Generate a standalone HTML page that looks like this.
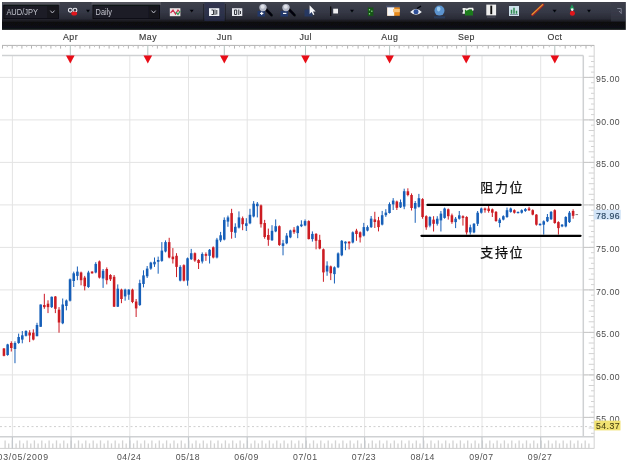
<!DOCTYPE html>
<html><head><meta charset="utf-8"><title>AUD/JPY Daily</title>
<style>
html,body{margin:0;padding:0;background:#fff;}
body{width:628px;height:468px;overflow:hidden;position:relative;font-family:"Liberation Sans","Noto Sans CJK SC",sans-serif;}
#chart{position:absolute;left:0;top:0;}
text{font-family:"Liberation Sans","Noto Sans CJK SC",sans-serif;}
</style></head><body>

<svg id="chart" width="628" height="468" viewBox="0 0 628 468">
<defs>
<linearGradient id="tbg" x1="0" y1="0" x2="0" y2="1">
<stop offset="0" stop-color="#3a3c45"/><stop offset="0.04" stop-color="#41434e"/><stop offset="0.1" stop-color="#3c3f4b"/>
<stop offset="0.36" stop-color="#353845"/><stop offset="0.6" stop-color="#292b36"/><stop offset="0.66" stop-color="#1c1d25"/>
<stop offset="0.73" stop-color="#0b0b11"/><stop offset="0.9" stop-color="#0c0d12"/><stop offset="1" stop-color="#16171d"/>
</linearGradient>
<filter id="soft" x="-5%" y="-5%" width="110%" height="110%"><feGaussianBlur stdDeviation="0.45"/></filter>
<filter id="soft2" x="-5%" y="-20%" width="110%" height="140%"><feGaussianBlur stdDeviation="0.55"/></filter>
</defs>
<rect x="0" y="0" width="628" height="468" fill="#fff"/>
<g id="plot" filter="url(#soft)">
<g stroke="#e4e4e4" stroke-width="1">
<line x1="12.4" y1="56" x2="12.4" y2="436"/>
<line x1="71.1" y1="56" x2="71.1" y2="436"/>
<line x1="129.8" y1="56" x2="129.8" y2="436"/>
<line x1="188.5" y1="56" x2="188.5" y2="436"/>
<line x1="247.2" y1="56" x2="247.2" y2="436"/>
<line x1="305.9" y1="56" x2="305.9" y2="436"/>
<line x1="364.6" y1="56" x2="364.6" y2="436"/>
<line x1="423.3" y1="56" x2="423.3" y2="436"/>
<line x1="482.0" y1="56" x2="482.0" y2="436"/>
<line x1="540.7" y1="56" x2="540.7" y2="436"/>
<line x1="0" y1="417.4" x2="588" y2="417.4"/>
<line x1="0" y1="374.9" x2="588" y2="374.9"/>
<line x1="0" y1="332.4" x2="588" y2="332.4"/>
<line x1="0" y1="289.9" x2="588" y2="289.9"/>
<line x1="0" y1="247.4" x2="588" y2="247.4"/>
<line x1="0" y1="204.9" x2="588" y2="204.9"/>
<line x1="0" y1="162.4" x2="588" y2="162.4"/>
<line x1="0" y1="119.9" x2="588" y2="119.9"/>
<line x1="0" y1="77.4" x2="588" y2="77.4"/>
</g>
<line x1="0" y1="426.6" x2="594" y2="426.6" stroke="#cfcfcf" stroke-width="1" stroke-dasharray="2,2.5"/>
<g stroke="#cfd1d3" stroke-width="1.5" fill="none">
<line x1="2" y1="55.4" x2="583.3" y2="55.4"/>
<line x1="583.3" y1="55.4" x2="583.3" y2="436.8"/>
<line x1="0" y1="436.8" x2="594.2" y2="436.8"/>
</g>
<line x1="594.2" y1="45.2" x2="594.2" y2="448.4" stroke="#dadada" stroke-width="1.2"/>
<line x1="0" y1="448.4" x2="594.2" y2="448.4" stroke="#d0d0d0" stroke-width="1"/>
<line x1="2" y1="45.4" x2="594.2" y2="45.4" stroke="#b2b2b2" stroke-width="1"/>
<line x1="65.5" y1="45.4" x2="65.5" y2="47.2" stroke="#c6c6c6" stroke-width="1"/>
<line x1="60.6" y1="45.4" x2="60.6" y2="48.6" stroke="#b4b4b4" stroke-width="1"/>
<line x1="55.8" y1="45.4" x2="55.8" y2="47.2" stroke="#c6c6c6" stroke-width="1"/>
<line x1="50.9" y1="45.4" x2="50.9" y2="48.6" stroke="#b4b4b4" stroke-width="1"/>
<line x1="46.1" y1="45.4" x2="46.1" y2="47.2" stroke="#c6c6c6" stroke-width="1"/>
<line x1="41.2" y1="45.4" x2="41.2" y2="48.6" stroke="#b4b4b4" stroke-width="1"/>
<line x1="36.4" y1="45.4" x2="36.4" y2="47.2" stroke="#c6c6c6" stroke-width="1"/>
<line x1="31.5" y1="45.4" x2="31.5" y2="48.6" stroke="#b4b4b4" stroke-width="1"/>
<line x1="26.7" y1="45.4" x2="26.7" y2="47.2" stroke="#c6c6c6" stroke-width="1"/>
<line x1="21.9" y1="45.4" x2="21.9" y2="48.6" stroke="#b4b4b4" stroke-width="1"/>
<line x1="17.0" y1="45.4" x2="17.0" y2="47.2" stroke="#c6c6c6" stroke-width="1"/>
<line x1="12.2" y1="45.4" x2="12.2" y2="48.6" stroke="#b4b4b4" stroke-width="1"/>
<line x1="7.3" y1="45.4" x2="7.3" y2="47.2" stroke="#c6c6c6" stroke-width="1"/>
<line x1="2.5" y1="45.4" x2="2.5" y2="48.6" stroke="#b4b4b4" stroke-width="1"/>
<line x1="75.1" y1="45.4" x2="75.1" y2="47.2" stroke="#c6c6c6" stroke-width="1"/>
<line x1="80.0" y1="45.4" x2="80.0" y2="48.6" stroke="#b4b4b4" stroke-width="1"/>
<line x1="84.8" y1="45.4" x2="84.8" y2="47.2" stroke="#c6c6c6" stroke-width="1"/>
<line x1="89.7" y1="45.4" x2="89.7" y2="48.6" stroke="#b4b4b4" stroke-width="1"/>
<line x1="94.5" y1="45.4" x2="94.5" y2="47.2" stroke="#c6c6c6" stroke-width="1"/>
<line x1="99.4" y1="45.4" x2="99.4" y2="48.6" stroke="#b4b4b4" stroke-width="1"/>
<line x1="104.2" y1="45.4" x2="104.2" y2="47.2" stroke="#c6c6c6" stroke-width="1"/>
<line x1="109.1" y1="45.4" x2="109.1" y2="48.6" stroke="#b4b4b4" stroke-width="1"/>
<line x1="113.9" y1="45.4" x2="113.9" y2="47.2" stroke="#c6c6c6" stroke-width="1"/>
<line x1="118.7" y1="45.4" x2="118.7" y2="48.6" stroke="#b4b4b4" stroke-width="1"/>
<line x1="123.6" y1="45.4" x2="123.6" y2="47.2" stroke="#c6c6c6" stroke-width="1"/>
<line x1="128.4" y1="45.4" x2="128.4" y2="48.6" stroke="#b4b4b4" stroke-width="1"/>
<line x1="133.3" y1="45.4" x2="133.3" y2="47.2" stroke="#c6c6c6" stroke-width="1"/>
<line x1="138.1" y1="45.4" x2="138.1" y2="48.6" stroke="#b4b4b4" stroke-width="1"/>
<line x1="143.0" y1="45.4" x2="143.0" y2="47.2" stroke="#c6c6c6" stroke-width="1"/>
<line x1="152.6" y1="45.4" x2="152.6" y2="47.2" stroke="#c6c6c6" stroke-width="1"/>
<line x1="157.4" y1="45.4" x2="157.4" y2="48.6" stroke="#b4b4b4" stroke-width="1"/>
<line x1="162.1" y1="45.4" x2="162.1" y2="47.2" stroke="#c6c6c6" stroke-width="1"/>
<line x1="166.9" y1="45.4" x2="166.9" y2="48.6" stroke="#b4b4b4" stroke-width="1"/>
<line x1="171.7" y1="45.4" x2="171.7" y2="47.2" stroke="#c6c6c6" stroke-width="1"/>
<line x1="176.5" y1="45.4" x2="176.5" y2="48.6" stroke="#b4b4b4" stroke-width="1"/>
<line x1="181.3" y1="45.4" x2="181.3" y2="47.2" stroke="#c6c6c6" stroke-width="1"/>
<line x1="186.1" y1="45.4" x2="186.1" y2="48.6" stroke="#b4b4b4" stroke-width="1"/>
<line x1="190.8" y1="45.4" x2="190.8" y2="47.2" stroke="#c6c6c6" stroke-width="1"/>
<line x1="195.6" y1="45.4" x2="195.6" y2="48.6" stroke="#b4b4b4" stroke-width="1"/>
<line x1="200.4" y1="45.4" x2="200.4" y2="47.2" stroke="#c6c6c6" stroke-width="1"/>
<line x1="205.2" y1="45.4" x2="205.2" y2="48.6" stroke="#b4b4b4" stroke-width="1"/>
<line x1="210.0" y1="45.4" x2="210.0" y2="47.2" stroke="#c6c6c6" stroke-width="1"/>
<line x1="214.7" y1="45.4" x2="214.7" y2="48.6" stroke="#b4b4b4" stroke-width="1"/>
<line x1="219.5" y1="45.4" x2="219.5" y2="47.2" stroke="#c6c6c6" stroke-width="1"/>
<line x1="229.4" y1="45.4" x2="229.4" y2="47.2" stroke="#c6c6c6" stroke-width="1"/>
<line x1="234.5" y1="45.4" x2="234.5" y2="48.6" stroke="#b4b4b4" stroke-width="1"/>
<line x1="239.5" y1="45.4" x2="239.5" y2="47.2" stroke="#c6c6c6" stroke-width="1"/>
<line x1="244.6" y1="45.4" x2="244.6" y2="48.6" stroke="#b4b4b4" stroke-width="1"/>
<line x1="249.7" y1="45.4" x2="249.7" y2="47.2" stroke="#c6c6c6" stroke-width="1"/>
<line x1="254.8" y1="45.4" x2="254.8" y2="48.6" stroke="#b4b4b4" stroke-width="1"/>
<line x1="259.8" y1="45.4" x2="259.8" y2="47.2" stroke="#c6c6c6" stroke-width="1"/>
<line x1="264.9" y1="45.4" x2="264.9" y2="48.6" stroke="#b4b4b4" stroke-width="1"/>
<line x1="270.0" y1="45.4" x2="270.0" y2="47.2" stroke="#c6c6c6" stroke-width="1"/>
<line x1="275.1" y1="45.4" x2="275.1" y2="48.6" stroke="#b4b4b4" stroke-width="1"/>
<line x1="280.1" y1="45.4" x2="280.1" y2="47.2" stroke="#c6c6c6" stroke-width="1"/>
<line x1="285.2" y1="45.4" x2="285.2" y2="48.6" stroke="#b4b4b4" stroke-width="1"/>
<line x1="290.3" y1="45.4" x2="290.3" y2="47.2" stroke="#c6c6c6" stroke-width="1"/>
<line x1="295.4" y1="45.4" x2="295.4" y2="48.6" stroke="#b4b4b4" stroke-width="1"/>
<line x1="300.4" y1="45.4" x2="300.4" y2="47.2" stroke="#c6c6c6" stroke-width="1"/>
<line x1="310.8" y1="45.4" x2="310.8" y2="47.2" stroke="#c6c6c6" stroke-width="1"/>
<line x1="316.0" y1="45.4" x2="316.0" y2="48.6" stroke="#b4b4b4" stroke-width="1"/>
<line x1="321.3" y1="45.4" x2="321.3" y2="47.2" stroke="#c6c6c6" stroke-width="1"/>
<line x1="326.5" y1="45.4" x2="326.5" y2="48.6" stroke="#b4b4b4" stroke-width="1"/>
<line x1="331.8" y1="45.4" x2="331.8" y2="47.2" stroke="#c6c6c6" stroke-width="1"/>
<line x1="337.0" y1="45.4" x2="337.0" y2="48.6" stroke="#b4b4b4" stroke-width="1"/>
<line x1="342.3" y1="45.4" x2="342.3" y2="47.2" stroke="#c6c6c6" stroke-width="1"/>
<line x1="347.6" y1="45.4" x2="347.6" y2="48.6" stroke="#b4b4b4" stroke-width="1"/>
<line x1="352.8" y1="45.4" x2="352.8" y2="47.2" stroke="#c6c6c6" stroke-width="1"/>
<line x1="358.1" y1="45.4" x2="358.1" y2="48.6" stroke="#b4b4b4" stroke-width="1"/>
<line x1="363.3" y1="45.4" x2="363.3" y2="47.2" stroke="#c6c6c6" stroke-width="1"/>
<line x1="368.6" y1="45.4" x2="368.6" y2="48.6" stroke="#b4b4b4" stroke-width="1"/>
<line x1="373.8" y1="45.4" x2="373.8" y2="47.2" stroke="#c6c6c6" stroke-width="1"/>
<line x1="379.1" y1="45.4" x2="379.1" y2="48.6" stroke="#b4b4b4" stroke-width="1"/>
<line x1="384.3" y1="45.4" x2="384.3" y2="47.2" stroke="#c6c6c6" stroke-width="1"/>
<line x1="394.4" y1="45.4" x2="394.4" y2="47.2" stroke="#c6c6c6" stroke-width="1"/>
<line x1="399.2" y1="45.4" x2="399.2" y2="48.6" stroke="#b4b4b4" stroke-width="1"/>
<line x1="404.0" y1="45.4" x2="404.0" y2="47.2" stroke="#c6c6c6" stroke-width="1"/>
<line x1="408.8" y1="45.4" x2="408.8" y2="48.6" stroke="#b4b4b4" stroke-width="1"/>
<line x1="413.5" y1="45.4" x2="413.5" y2="47.2" stroke="#c6c6c6" stroke-width="1"/>
<line x1="418.3" y1="45.4" x2="418.3" y2="48.6" stroke="#b4b4b4" stroke-width="1"/>
<line x1="423.1" y1="45.4" x2="423.1" y2="47.2" stroke="#c6c6c6" stroke-width="1"/>
<line x1="427.9" y1="45.4" x2="427.9" y2="48.6" stroke="#b4b4b4" stroke-width="1"/>
<line x1="432.7" y1="45.4" x2="432.7" y2="47.2" stroke="#c6c6c6" stroke-width="1"/>
<line x1="437.5" y1="45.4" x2="437.5" y2="48.6" stroke="#b4b4b4" stroke-width="1"/>
<line x1="442.3" y1="45.4" x2="442.3" y2="47.2" stroke="#c6c6c6" stroke-width="1"/>
<line x1="447.1" y1="45.4" x2="447.1" y2="48.6" stroke="#b4b4b4" stroke-width="1"/>
<line x1="451.8" y1="45.4" x2="451.8" y2="47.2" stroke="#c6c6c6" stroke-width="1"/>
<line x1="456.6" y1="45.4" x2="456.6" y2="48.6" stroke="#b4b4b4" stroke-width="1"/>
<line x1="461.4" y1="45.4" x2="461.4" y2="47.2" stroke="#c6c6c6" stroke-width="1"/>
<line x1="471.7" y1="45.4" x2="471.7" y2="47.2" stroke="#c6c6c6" stroke-width="1"/>
<line x1="477.3" y1="45.4" x2="477.3" y2="48.6" stroke="#b4b4b4" stroke-width="1"/>
<line x1="482.8" y1="45.4" x2="482.8" y2="47.2" stroke="#c6c6c6" stroke-width="1"/>
<line x1="488.3" y1="45.4" x2="488.3" y2="48.6" stroke="#b4b4b4" stroke-width="1"/>
<line x1="493.9" y1="45.4" x2="493.9" y2="47.2" stroke="#c6c6c6" stroke-width="1"/>
<line x1="499.4" y1="45.4" x2="499.4" y2="48.6" stroke="#b4b4b4" stroke-width="1"/>
<line x1="505.0" y1="45.4" x2="505.0" y2="47.2" stroke="#c6c6c6" stroke-width="1"/>
<line x1="510.5" y1="45.4" x2="510.5" y2="48.6" stroke="#b4b4b4" stroke-width="1"/>
<line x1="516.0" y1="45.4" x2="516.0" y2="47.2" stroke="#c6c6c6" stroke-width="1"/>
<line x1="521.6" y1="45.4" x2="521.6" y2="48.6" stroke="#b4b4b4" stroke-width="1"/>
<line x1="527.1" y1="45.4" x2="527.1" y2="47.2" stroke="#c6c6c6" stroke-width="1"/>
<line x1="532.6" y1="45.4" x2="532.6" y2="48.6" stroke="#b4b4b4" stroke-width="1"/>
<line x1="538.2" y1="45.4" x2="538.2" y2="47.2" stroke="#c6c6c6" stroke-width="1"/>
<line x1="543.7" y1="45.4" x2="543.7" y2="48.6" stroke="#b4b4b4" stroke-width="1"/>
<line x1="549.3" y1="45.4" x2="549.3" y2="47.2" stroke="#c6c6c6" stroke-width="1"/>
<line x1="560.0" y1="45.4" x2="560.0" y2="47.2" stroke="#c6c6c6" stroke-width="1"/>
<line x1="565.2" y1="45.4" x2="565.2" y2="48.6" stroke="#b4b4b4" stroke-width="1"/>
<line x1="570.4" y1="45.4" x2="570.4" y2="47.2" stroke="#c6c6c6" stroke-width="1"/>
<line x1="575.6" y1="45.4" x2="575.6" y2="48.6" stroke="#b4b4b4" stroke-width="1"/>
<line x1="580.8" y1="45.4" x2="580.8" y2="47.2" stroke="#c6c6c6" stroke-width="1"/>
<line x1="586.0" y1="45.4" x2="586.0" y2="48.6" stroke="#b4b4b4" stroke-width="1"/>
<line x1="591.2" y1="45.4" x2="591.2" y2="47.2" stroke="#c6c6c6" stroke-width="1"/>
<line x1="70.3" y1="45.4" x2="70.3" y2="55" stroke="#b4c4c0" stroke-width="1"/>
<line x1="147.8" y1="45.4" x2="147.8" y2="55" stroke="#b4c4c0" stroke-width="1"/>
<line x1="224.3" y1="45.4" x2="224.3" y2="55" stroke="#b4c4c0" stroke-width="1"/>
<line x1="305.5" y1="45.4" x2="305.5" y2="55" stroke="#b4c4c0" stroke-width="1"/>
<line x1="389.6" y1="45.4" x2="389.6" y2="55" stroke="#b4c4c0" stroke-width="1"/>
<line x1="466.2" y1="45.4" x2="466.2" y2="55" stroke="#b4c4c0" stroke-width="1"/>
<line x1="554.8" y1="45.4" x2="554.8" y2="55" stroke="#b4c4c0" stroke-width="1"/>
<g stroke="#d2d2d2" stroke-width="1.3">
<line x1="5.1" y1="448.4" x2="5.1" y2="440.4"/>
<line x1="8.7" y1="448.4" x2="8.7" y2="443.4"/>
<line x1="12.4" y1="448.4" x2="12.4" y2="440.4"/>
<line x1="16.1" y1="448.4" x2="16.1" y2="443.4"/>
<line x1="19.7" y1="448.4" x2="19.7" y2="440.4"/>
<line x1="23.4" y1="448.4" x2="23.4" y2="443.4"/>
<line x1="27.1" y1="448.4" x2="27.1" y2="440.4"/>
<line x1="30.8" y1="448.4" x2="30.8" y2="443.4"/>
<line x1="34.4" y1="448.4" x2="34.4" y2="440.4"/>
<line x1="38.1" y1="448.4" x2="38.1" y2="443.4"/>
<line x1="41.8" y1="448.4" x2="41.8" y2="440.4"/>
<line x1="45.4" y1="448.4" x2="45.4" y2="443.4"/>
<line x1="49.1" y1="448.4" x2="49.1" y2="440.4"/>
<line x1="52.8" y1="448.4" x2="52.8" y2="443.4"/>
<line x1="56.5" y1="448.4" x2="56.5" y2="440.4"/>
<line x1="60.1" y1="448.4" x2="60.1" y2="443.4"/>
<line x1="63.8" y1="448.4" x2="63.8" y2="440.4"/>
<line x1="67.5" y1="448.4" x2="67.5" y2="443.4"/>
<line x1="71.2" y1="448.4" x2="71.2" y2="440.4"/>
<line x1="74.8" y1="448.4" x2="74.8" y2="443.4"/>
<line x1="78.5" y1="448.4" x2="78.5" y2="440.4"/>
<line x1="82.2" y1="448.4" x2="82.2" y2="443.4"/>
<line x1="85.8" y1="448.4" x2="85.8" y2="440.4"/>
<line x1="89.5" y1="448.4" x2="89.5" y2="443.4"/>
<line x1="93.2" y1="448.4" x2="93.2" y2="440.4"/>
<line x1="96.9" y1="448.4" x2="96.9" y2="443.4"/>
<line x1="100.5" y1="448.4" x2="100.5" y2="440.4"/>
<line x1="104.2" y1="448.4" x2="104.2" y2="443.4"/>
<line x1="107.9" y1="448.4" x2="107.9" y2="440.4"/>
<line x1="111.5" y1="448.4" x2="111.5" y2="443.4"/>
<line x1="115.2" y1="448.4" x2="115.2" y2="440.4"/>
<line x1="118.9" y1="448.4" x2="118.9" y2="443.4"/>
<line x1="122.6" y1="448.4" x2="122.6" y2="440.4"/>
<line x1="126.2" y1="448.4" x2="126.2" y2="443.4"/>
<line x1="129.9" y1="448.4" x2="129.9" y2="440.4"/>
<line x1="133.6" y1="448.4" x2="133.6" y2="443.4"/>
<line x1="137.2" y1="448.4" x2="137.2" y2="440.4"/>
<line x1="140.9" y1="448.4" x2="140.9" y2="443.4"/>
<line x1="144.6" y1="448.4" x2="144.6" y2="440.4"/>
<line x1="148.3" y1="448.4" x2="148.3" y2="443.4"/>
<line x1="151.9" y1="448.4" x2="151.9" y2="440.4"/>
<line x1="155.6" y1="448.4" x2="155.6" y2="443.4"/>
<line x1="159.3" y1="448.4" x2="159.3" y2="440.4"/>
<line x1="163.0" y1="448.4" x2="163.0" y2="443.4"/>
<line x1="166.6" y1="448.4" x2="166.6" y2="440.4"/>
<line x1="170.3" y1="448.4" x2="170.3" y2="443.4"/>
<line x1="174.0" y1="448.4" x2="174.0" y2="440.4"/>
<line x1="177.6" y1="448.4" x2="177.6" y2="443.4"/>
<line x1="181.3" y1="448.4" x2="181.3" y2="440.4"/>
<line x1="185.0" y1="448.4" x2="185.0" y2="443.4"/>
<line x1="188.7" y1="448.4" x2="188.7" y2="440.4"/>
<line x1="192.3" y1="448.4" x2="192.3" y2="443.4"/>
<line x1="196.0" y1="448.4" x2="196.0" y2="440.4"/>
<line x1="199.7" y1="448.4" x2="199.7" y2="443.4"/>
<line x1="203.3" y1="448.4" x2="203.3" y2="440.4"/>
<line x1="207.0" y1="448.4" x2="207.0" y2="443.4"/>
<line x1="210.7" y1="448.4" x2="210.7" y2="440.4"/>
<line x1="214.4" y1="448.4" x2="214.4" y2="443.4"/>
<line x1="218.0" y1="448.4" x2="218.0" y2="440.4"/>
<line x1="221.7" y1="448.4" x2="221.7" y2="443.4"/>
<line x1="225.4" y1="448.4" x2="225.4" y2="440.4"/>
<line x1="229.0" y1="448.4" x2="229.0" y2="443.4"/>
<line x1="232.7" y1="448.4" x2="232.7" y2="440.4"/>
<line x1="236.4" y1="448.4" x2="236.4" y2="443.4"/>
<line x1="240.1" y1="448.4" x2="240.1" y2="440.4"/>
<line x1="243.7" y1="448.4" x2="243.7" y2="443.4"/>
<line x1="247.4" y1="448.4" x2="247.4" y2="440.4"/>
<line x1="251.1" y1="448.4" x2="251.1" y2="443.4"/>
<line x1="254.8" y1="448.4" x2="254.8" y2="440.4"/>
<line x1="258.4" y1="448.4" x2="258.4" y2="443.4"/>
<line x1="262.1" y1="448.4" x2="262.1" y2="440.4"/>
<line x1="265.8" y1="448.4" x2="265.8" y2="443.4"/>
<line x1="269.4" y1="448.4" x2="269.4" y2="440.4"/>
<line x1="273.1" y1="448.4" x2="273.1" y2="443.4"/>
<line x1="276.8" y1="448.4" x2="276.8" y2="440.4"/>
<line x1="280.5" y1="448.4" x2="280.5" y2="443.4"/>
<line x1="284.1" y1="448.4" x2="284.1" y2="440.4"/>
<line x1="287.8" y1="448.4" x2="287.8" y2="443.4"/>
<line x1="291.5" y1="448.4" x2="291.5" y2="440.4"/>
<line x1="295.1" y1="448.4" x2="295.1" y2="443.4"/>
<line x1="298.8" y1="448.4" x2="298.8" y2="440.4"/>
<line x1="302.5" y1="448.4" x2="302.5" y2="443.4"/>
<line x1="306.2" y1="448.4" x2="306.2" y2="440.4"/>
<line x1="309.8" y1="448.4" x2="309.8" y2="443.4"/>
<line x1="313.5" y1="448.4" x2="313.5" y2="440.4"/>
<line x1="317.2" y1="448.4" x2="317.2" y2="443.4"/>
<line x1="320.8" y1="448.4" x2="320.8" y2="440.4"/>
<line x1="324.5" y1="448.4" x2="324.5" y2="443.4"/>
<line x1="328.2" y1="448.4" x2="328.2" y2="440.4"/>
<line x1="331.9" y1="448.4" x2="331.9" y2="443.4"/>
<line x1="335.5" y1="448.4" x2="335.5" y2="440.4"/>
<line x1="339.2" y1="448.4" x2="339.2" y2="443.4"/>
<line x1="342.9" y1="448.4" x2="342.9" y2="440.4"/>
<line x1="346.6" y1="448.4" x2="346.6" y2="443.4"/>
<line x1="350.2" y1="448.4" x2="350.2" y2="440.4"/>
<line x1="353.9" y1="448.4" x2="353.9" y2="443.4"/>
<line x1="357.6" y1="448.4" x2="357.6" y2="440.4"/>
<line x1="361.2" y1="448.4" x2="361.2" y2="443.4"/>
<line x1="364.9" y1="448.4" x2="364.9" y2="440.4"/>
<line x1="368.6" y1="448.4" x2="368.6" y2="443.4"/>
<line x1="372.3" y1="448.4" x2="372.3" y2="440.4"/>
<line x1="375.9" y1="448.4" x2="375.9" y2="443.4"/>
<line x1="379.6" y1="448.4" x2="379.6" y2="440.4"/>
<line x1="383.3" y1="448.4" x2="383.3" y2="443.4"/>
<line x1="386.9" y1="448.4" x2="386.9" y2="440.4"/>
<line x1="390.6" y1="448.4" x2="390.6" y2="443.4"/>
<line x1="394.3" y1="448.4" x2="394.3" y2="440.4"/>
<line x1="398.0" y1="448.4" x2="398.0" y2="443.4"/>
<line x1="401.6" y1="448.4" x2="401.6" y2="440.4"/>
<line x1="405.3" y1="448.4" x2="405.3" y2="443.4"/>
<line x1="409.0" y1="448.4" x2="409.0" y2="440.4"/>
<line x1="412.6" y1="448.4" x2="412.6" y2="443.4"/>
<line x1="416.3" y1="448.4" x2="416.3" y2="440.4"/>
<line x1="420.0" y1="448.4" x2="420.0" y2="443.4"/>
<line x1="423.7" y1="448.4" x2="423.7" y2="440.4"/>
<line x1="427.3" y1="448.4" x2="427.3" y2="443.4"/>
<line x1="431.0" y1="448.4" x2="431.0" y2="440.4"/>
<line x1="434.7" y1="448.4" x2="434.7" y2="443.4"/>
<line x1="438.4" y1="448.4" x2="438.4" y2="440.4"/>
<line x1="442.0" y1="448.4" x2="442.0" y2="443.4"/>
<line x1="445.7" y1="448.4" x2="445.7" y2="440.4"/>
<line x1="449.4" y1="448.4" x2="449.4" y2="443.4"/>
<line x1="453.0" y1="448.4" x2="453.0" y2="440.4"/>
<line x1="456.7" y1="448.4" x2="456.7" y2="443.4"/>
<line x1="460.4" y1="448.4" x2="460.4" y2="440.4"/>
<line x1="464.1" y1="448.4" x2="464.1" y2="443.4"/>
<line x1="467.7" y1="448.4" x2="467.7" y2="440.4"/>
<line x1="471.4" y1="448.4" x2="471.4" y2="443.4"/>
<line x1="475.1" y1="448.4" x2="475.1" y2="440.4"/>
<line x1="478.7" y1="448.4" x2="478.7" y2="443.4"/>
<line x1="482.4" y1="448.4" x2="482.4" y2="440.4"/>
<line x1="486.1" y1="448.4" x2="486.1" y2="443.4"/>
<line x1="489.8" y1="448.4" x2="489.8" y2="440.4"/>
<line x1="493.4" y1="448.4" x2="493.4" y2="443.4"/>
<line x1="497.1" y1="448.4" x2="497.1" y2="440.4"/>
<line x1="500.8" y1="448.4" x2="500.8" y2="443.4"/>
<line x1="504.4" y1="448.4" x2="504.4" y2="440.4"/>
<line x1="508.1" y1="448.4" x2="508.1" y2="443.4"/>
<line x1="511.8" y1="448.4" x2="511.8" y2="440.4"/>
<line x1="515.5" y1="448.4" x2="515.5" y2="443.4"/>
<line x1="519.1" y1="448.4" x2="519.1" y2="440.4"/>
<line x1="522.8" y1="448.4" x2="522.8" y2="443.4"/>
<line x1="526.5" y1="448.4" x2="526.5" y2="440.4"/>
<line x1="530.2" y1="448.4" x2="530.2" y2="443.4"/>
<line x1="533.8" y1="448.4" x2="533.8" y2="440.4"/>
<line x1="537.5" y1="448.4" x2="537.5" y2="443.4"/>
<line x1="541.2" y1="448.4" x2="541.2" y2="440.4"/>
<line x1="544.8" y1="448.4" x2="544.8" y2="443.4"/>
<line x1="548.5" y1="448.4" x2="548.5" y2="440.4"/>
<line x1="552.2" y1="448.4" x2="552.2" y2="443.4"/>
<line x1="555.9" y1="448.4" x2="555.9" y2="440.4"/>
<line x1="559.5" y1="448.4" x2="559.5" y2="443.4"/>
<line x1="563.2" y1="448.4" x2="563.2" y2="440.4"/>
<line x1="566.9" y1="448.4" x2="566.9" y2="443.4"/>
<line x1="570.5" y1="448.4" x2="570.5" y2="440.4"/>
<line x1="574.2" y1="448.4" x2="574.2" y2="443.4"/>
<line x1="577.9" y1="448.4" x2="577.9" y2="440.4"/>
<line x1="581.6" y1="448.4" x2="581.6" y2="443.4"/>
<line x1="585.2" y1="448.4" x2="585.2" y2="440.4"/>
<line x1="588.9" y1="448.4" x2="588.9" y2="443.4"/>
</g>
<g stroke="#c4c8cc" stroke-width="1.2">
<line x1="12.4" y1="436.8" x2="12.4" y2="448.4"/>
<line x1="71.1" y1="436.8" x2="71.1" y2="448.4"/>
<line x1="129.8" y1="436.8" x2="129.8" y2="448.4"/>
<line x1="188.5" y1="436.8" x2="188.5" y2="448.4"/>
<line x1="247.2" y1="436.8" x2="247.2" y2="448.4"/>
<line x1="305.9" y1="436.8" x2="305.9" y2="448.4"/>
<line x1="364.6" y1="436.8" x2="364.6" y2="448.4"/>
<line x1="423.3" y1="436.8" x2="423.3" y2="448.4"/>
<line x1="482.0" y1="436.8" x2="482.0" y2="448.4"/>
<line x1="540.7" y1="436.8" x2="540.7" y2="448.4"/>
</g>
<g stroke="#d2d2d2" stroke-width="1">
<line x1="588.7" y1="56.2" x2="594.2" y2="56.2"/>
<line x1="591.0" y1="61.5" x2="594.2" y2="61.5"/>
<line x1="588.7" y1="66.8" x2="594.2" y2="66.8"/>
<line x1="591.0" y1="72.1" x2="594.2" y2="72.1"/>
<line x1="588.7" y1="77.4" x2="594.2" y2="77.4"/>
<line x1="591.0" y1="82.7" x2="594.2" y2="82.7"/>
<line x1="588.7" y1="88.0" x2="594.2" y2="88.0"/>
<line x1="591.0" y1="93.3" x2="594.2" y2="93.3"/>
<line x1="588.7" y1="98.7" x2="594.2" y2="98.7"/>
<line x1="591.0" y1="104.0" x2="594.2" y2="104.0"/>
<line x1="588.7" y1="109.3" x2="594.2" y2="109.3"/>
<line x1="591.0" y1="114.6" x2="594.2" y2="114.6"/>
<line x1="588.7" y1="119.9" x2="594.2" y2="119.9"/>
<line x1="591.0" y1="125.2" x2="594.2" y2="125.2"/>
<line x1="588.7" y1="130.5" x2="594.2" y2="130.5"/>
<line x1="591.0" y1="135.8" x2="594.2" y2="135.8"/>
<line x1="588.7" y1="141.2" x2="594.2" y2="141.2"/>
<line x1="591.0" y1="146.5" x2="594.2" y2="146.5"/>
<line x1="588.7" y1="151.8" x2="594.2" y2="151.8"/>
<line x1="591.0" y1="157.1" x2="594.2" y2="157.1"/>
<line x1="588.7" y1="162.4" x2="594.2" y2="162.4"/>
<line x1="591.0" y1="167.7" x2="594.2" y2="167.7"/>
<line x1="588.7" y1="173.0" x2="594.2" y2="173.0"/>
<line x1="591.0" y1="178.3" x2="594.2" y2="178.3"/>
<line x1="588.7" y1="183.7" x2="594.2" y2="183.7"/>
<line x1="591.0" y1="189.0" x2="594.2" y2="189.0"/>
<line x1="588.7" y1="194.3" x2="594.2" y2="194.3"/>
<line x1="591.0" y1="199.6" x2="594.2" y2="199.6"/>
<line x1="588.7" y1="204.9" x2="594.2" y2="204.9"/>
<line x1="591.0" y1="210.2" x2="594.2" y2="210.2"/>
<line x1="588.7" y1="215.5" x2="594.2" y2="215.5"/>
<line x1="591.0" y1="220.8" x2="594.2" y2="220.8"/>
<line x1="588.7" y1="226.2" x2="594.2" y2="226.2"/>
<line x1="591.0" y1="231.5" x2="594.2" y2="231.5"/>
<line x1="588.7" y1="236.8" x2="594.2" y2="236.8"/>
<line x1="591.0" y1="242.1" x2="594.2" y2="242.1"/>
<line x1="588.7" y1="247.4" x2="594.2" y2="247.4"/>
<line x1="591.0" y1="252.7" x2="594.2" y2="252.7"/>
<line x1="588.7" y1="258.0" x2="594.2" y2="258.0"/>
<line x1="591.0" y1="263.3" x2="594.2" y2="263.3"/>
<line x1="588.7" y1="268.6" x2="594.2" y2="268.6"/>
<line x1="591.0" y1="274.0" x2="594.2" y2="274.0"/>
<line x1="588.7" y1="279.3" x2="594.2" y2="279.3"/>
<line x1="591.0" y1="284.6" x2="594.2" y2="284.6"/>
<line x1="588.7" y1="289.9" x2="594.2" y2="289.9"/>
<line x1="591.0" y1="295.2" x2="594.2" y2="295.2"/>
<line x1="588.7" y1="300.5" x2="594.2" y2="300.5"/>
<line x1="591.0" y1="305.8" x2="594.2" y2="305.8"/>
<line x1="588.7" y1="311.1" x2="594.2" y2="311.1"/>
<line x1="591.0" y1="316.5" x2="594.2" y2="316.5"/>
<line x1="588.7" y1="321.8" x2="594.2" y2="321.8"/>
<line x1="591.0" y1="327.1" x2="594.2" y2="327.1"/>
<line x1="588.7" y1="332.4" x2="594.2" y2="332.4"/>
<line x1="591.0" y1="337.7" x2="594.2" y2="337.7"/>
<line x1="588.7" y1="343.0" x2="594.2" y2="343.0"/>
<line x1="591.0" y1="348.3" x2="594.2" y2="348.3"/>
<line x1="588.7" y1="353.6" x2="594.2" y2="353.6"/>
<line x1="591.0" y1="359.0" x2="594.2" y2="359.0"/>
<line x1="588.7" y1="364.3" x2="594.2" y2="364.3"/>
<line x1="591.0" y1="369.6" x2="594.2" y2="369.6"/>
<line x1="588.7" y1="374.9" x2="594.2" y2="374.9"/>
<line x1="591.0" y1="380.2" x2="594.2" y2="380.2"/>
<line x1="588.7" y1="385.5" x2="594.2" y2="385.5"/>
<line x1="591.0" y1="390.8" x2="594.2" y2="390.8"/>
<line x1="588.7" y1="396.1" x2="594.2" y2="396.1"/>
<line x1="591.0" y1="401.5" x2="594.2" y2="401.5"/>
<line x1="588.7" y1="406.8" x2="594.2" y2="406.8"/>
<line x1="591.0" y1="412.1" x2="594.2" y2="412.1"/>
<line x1="588.7" y1="417.4" x2="594.2" y2="417.4"/>
<line x1="591.0" y1="422.7" x2="594.2" y2="422.7"/>
<line x1="588.7" y1="428.0" x2="594.2" y2="428.0"/>
<line x1="591.0" y1="433.3" x2="594.2" y2="433.3"/>
</g>
<line x1="583" y1="417.4" x2="594.2" y2="417.4" stroke="#c8c8c8" stroke-width="1"/>
<line x1="583" y1="374.9" x2="594.2" y2="374.9" stroke="#c8c8c8" stroke-width="1"/>
<line x1="583" y1="332.4" x2="594.2" y2="332.4" stroke="#c8c8c8" stroke-width="1"/>
<line x1="583" y1="289.9" x2="594.2" y2="289.9" stroke="#c8c8c8" stroke-width="1"/>
<line x1="583" y1="247.4" x2="594.2" y2="247.4" stroke="#c8c8c8" stroke-width="1"/>
<line x1="583" y1="204.9" x2="594.2" y2="204.9" stroke="#c8c8c8" stroke-width="1"/>
<line x1="583" y1="162.4" x2="594.2" y2="162.4" stroke="#c8c8c8" stroke-width="1"/>
<line x1="583" y1="119.9" x2="594.2" y2="119.9" stroke="#c8c8c8" stroke-width="1"/>
<line x1="583" y1="77.4" x2="594.2" y2="77.4" stroke="#c8c8c8" stroke-width="1"/>
</g>
<path d="M66.0 55.4 L74.6 55.4 L70.3 63.6 Z" fill="#e80c16" filter="url(#soft)"/>
<path d="M143.5 55.4 L152.1 55.4 L147.8 63.6 Z" fill="#e80c16" filter="url(#soft)"/>
<path d="M220.0 55.4 L228.6 55.4 L224.3 63.6 Z" fill="#e80c16" filter="url(#soft)"/>
<path d="M301.2 55.4 L309.8 55.4 L305.5 63.6 Z" fill="#e80c16" filter="url(#soft)"/>
<path d="M385.3 55.4 L393.9 55.4 L389.6 63.6 Z" fill="#e80c16" filter="url(#soft)"/>
<path d="M461.9 55.4 L470.5 55.4 L466.2 63.6 Z" fill="#e80c16" filter="url(#soft)"/>
<path d="M550.5 55.4 L559.1 55.4 L554.8 63.6 Z" fill="#e80c16" filter="url(#soft)"/>
<g id="candles" filter="url(#soft)">
<line x1="3.95" y1="348.0" x2="3.95" y2="356.3" stroke="#cc1c24" stroke-width="1"/>
<rect x="2.68" y="348.5" width="2.55" height="7.3" fill="#cc1c24"/>
<line x1="7.62" y1="343.8" x2="7.62" y2="355.8" stroke="#175fb8" stroke-width="1"/>
<rect x="6.35" y="344.4" width="2.55" height="10.6" fill="#175fb8"/>
<line x1="11.29" y1="341.3" x2="11.29" y2="351.5" stroke="#cc1c24" stroke-width="1"/>
<rect x="10.02" y="343.0" width="2.55" height="5.0" fill="#cc1c24"/>
<line x1="14.97" y1="341.3" x2="14.97" y2="363.2" stroke="#175fb8" stroke-width="1"/>
<rect x="13.70" y="343.0" width="2.55" height="6.0" fill="#175fb8"/>
<line x1="18.64" y1="333.6" x2="18.64" y2="343.8" stroke="#175fb8" stroke-width="1"/>
<rect x="17.37" y="337.0" width="2.55" height="6.0" fill="#175fb8"/>
<line x1="22.31" y1="331.0" x2="22.31" y2="343.3" stroke="#175fb8" stroke-width="1"/>
<rect x="21.04" y="335.3" width="2.55" height="4.3" fill="#175fb8"/>
<line x1="25.98" y1="330.2" x2="25.98" y2="336.5" stroke="#175fb8" stroke-width="1"/>
<rect x="24.71" y="331.0" width="2.55" height="4.8" fill="#175fb8"/>
<line x1="29.65" y1="330.2" x2="29.65" y2="342.1" stroke="#cc1c24" stroke-width="1"/>
<rect x="28.38" y="332.5" width="2.55" height="3.0" fill="#cc1c24"/>
<line x1="33.33" y1="329.3" x2="33.33" y2="340.4" stroke="#cc1c24" stroke-width="1"/>
<rect x="32.06" y="332.7" width="2.55" height="6.9" fill="#cc1c24"/>
<line x1="37.00" y1="322.8" x2="37.00" y2="336.2" stroke="#175fb8" stroke-width="1"/>
<rect x="35.73" y="325.0" width="2.55" height="11.2" fill="#175fb8"/>
<line x1="40.67" y1="304.5" x2="40.67" y2="326.8" stroke="#175fb8" stroke-width="1"/>
<rect x="39.40" y="304.5" width="2.55" height="22.3" fill="#175fb8"/>
<line x1="44.34" y1="293.8" x2="44.34" y2="308.8" stroke="#cc1c24" stroke-width="1"/>
<rect x="43.07" y="305.0" width="2.55" height="2.1" fill="#cc1c24"/>
<line x1="48.01" y1="300.3" x2="48.01" y2="313.1" stroke="#cc1c24" stroke-width="1"/>
<rect x="46.74" y="303.7" width="2.55" height="3.4" fill="#cc1c24"/>
<line x1="51.69" y1="296.5" x2="51.69" y2="308.0" stroke="#175fb8" stroke-width="1"/>
<rect x="50.42" y="296.8" width="2.55" height="10.3" fill="#175fb8"/>
<line x1="55.36" y1="296.0" x2="55.36" y2="313.1" stroke="#cc1c24" stroke-width="1"/>
<rect x="54.09" y="296.5" width="2.55" height="12.3" fill="#cc1c24"/>
<line x1="59.03" y1="307.1" x2="59.03" y2="332.7" stroke="#cc1c24" stroke-width="1"/>
<rect x="57.76" y="309.7" width="2.55" height="12.8" fill="#cc1c24"/>
<line x1="62.70" y1="298.5" x2="62.70" y2="324.2" stroke="#175fb8" stroke-width="1"/>
<rect x="61.43" y="304.5" width="2.55" height="18.8" fill="#175fb8"/>
<line x1="66.37" y1="299.5" x2="66.37" y2="310.3" stroke="#175fb8" stroke-width="1"/>
<rect x="65.10" y="300.5" width="2.55" height="5.5" fill="#175fb8"/>
<line x1="70.05" y1="278.5" x2="70.05" y2="301.5" stroke="#175fb8" stroke-width="1"/>
<rect x="68.78" y="279.3" width="2.55" height="21.4" fill="#175fb8"/>
<line x1="73.72" y1="271.6" x2="73.72" y2="287.0" stroke="#175fb8" stroke-width="1"/>
<rect x="72.45" y="273.3" width="2.55" height="7.7" fill="#175fb8"/>
<line x1="77.39" y1="266.5" x2="77.39" y2="280.2" stroke="#175fb8" stroke-width="1"/>
<rect x="76.12" y="271.6" width="2.55" height="4.3" fill="#175fb8"/>
<line x1="81.06" y1="271.6" x2="81.06" y2="285.3" stroke="#cc1c24" stroke-width="1"/>
<rect x="79.79" y="272.5" width="2.55" height="7.7" fill="#cc1c24"/>
<line x1="84.73" y1="275.9" x2="84.73" y2="290.4" stroke="#cc1c24" stroke-width="1"/>
<rect x="83.46" y="277.6" width="2.55" height="8.6" fill="#cc1c24"/>
<line x1="88.41" y1="270.8" x2="88.41" y2="287.9" stroke="#175fb8" stroke-width="1"/>
<rect x="87.14" y="272.5" width="2.55" height="14.5" fill="#175fb8"/>
<line x1="92.08" y1="271.2" x2="92.08" y2="273.7" stroke="#cc1c24" stroke-width="1"/>
<rect x="90.81" y="271.6" width="2.55" height="1.7" fill="#cc1c24"/>
<line x1="95.75" y1="262.2" x2="95.75" y2="273.3" stroke="#175fb8" stroke-width="1"/>
<rect x="94.48" y="263.9" width="2.55" height="8.6" fill="#175fb8"/>
<line x1="99.42" y1="260.5" x2="99.42" y2="278.5" stroke="#cc1c24" stroke-width="1"/>
<rect x="98.15" y="261.4" width="2.55" height="16.2" fill="#cc1c24"/>
<line x1="103.09" y1="269.0" x2="103.09" y2="287.9" stroke="#175fb8" stroke-width="1"/>
<rect x="101.82" y="270.8" width="2.55" height="7.7" fill="#175fb8"/>
<line x1="106.77" y1="267.4" x2="106.77" y2="284.4" stroke="#cc1c24" stroke-width="1"/>
<rect x="105.50" y="269.0" width="2.55" height="11.2" fill="#cc1c24"/>
<line x1="110.44" y1="274.2" x2="110.44" y2="281.0" stroke="#cc1c24" stroke-width="1"/>
<rect x="109.17" y="275.0" width="2.55" height="4.3" fill="#cc1c24"/>
<line x1="114.11" y1="275.0" x2="114.11" y2="307.0" stroke="#cc1c24" stroke-width="1"/>
<rect x="112.84" y="276.8" width="2.55" height="29.9" fill="#cc1c24"/>
<line x1="117.78" y1="284.4" x2="117.78" y2="307.0" stroke="#175fb8" stroke-width="1"/>
<rect x="116.51" y="288.7" width="2.55" height="18.0" fill="#175fb8"/>
<line x1="121.45" y1="288.7" x2="121.45" y2="303.2" stroke="#cc1c24" stroke-width="1"/>
<rect x="120.18" y="289.6" width="2.55" height="9.4" fill="#cc1c24"/>
<line x1="125.13" y1="288.7" x2="125.13" y2="300.7" stroke="#175fb8" stroke-width="1"/>
<rect x="123.86" y="289.6" width="2.55" height="6.8" fill="#175fb8"/>
<line x1="128.80" y1="289.2" x2="128.80" y2="299.8" stroke="#175fb8" stroke-width="1"/>
<rect x="127.53" y="289.6" width="2.55" height="5.1" fill="#175fb8"/>
<line x1="132.47" y1="288.7" x2="132.47" y2="303.2" stroke="#cc1c24" stroke-width="1"/>
<rect x="131.20" y="289.6" width="2.55" height="12.4" fill="#cc1c24"/>
<line x1="136.14" y1="299.0" x2="136.14" y2="317.0" stroke="#cc1c24" stroke-width="1"/>
<rect x="134.87" y="301.5" width="2.55" height="6.9" fill="#cc1c24"/>
<line x1="139.81" y1="279.7" x2="139.81" y2="306.0" stroke="#175fb8" stroke-width="1"/>
<rect x="138.54" y="283.1" width="2.55" height="21.9" fill="#175fb8"/>
<line x1="143.49" y1="270.3" x2="143.49" y2="287.4" stroke="#175fb8" stroke-width="1"/>
<rect x="142.22" y="275.4" width="2.55" height="8.6" fill="#175fb8"/>
<line x1="147.16" y1="266.0" x2="147.16" y2="278.0" stroke="#175fb8" stroke-width="1"/>
<rect x="145.89" y="268.6" width="2.55" height="7.7" fill="#175fb8"/>
<line x1="150.83" y1="261.8" x2="150.83" y2="269.8" stroke="#175fb8" stroke-width="1"/>
<rect x="149.56" y="262.6" width="2.55" height="6.0" fill="#175fb8"/>
<line x1="154.50" y1="257.5" x2="154.50" y2="266.9" stroke="#175fb8" stroke-width="1"/>
<rect x="153.23" y="261.8" width="2.55" height="2.5" fill="#175fb8"/>
<line x1="158.17" y1="256.6" x2="158.17" y2="273.7" stroke="#175fb8" stroke-width="1"/>
<rect x="156.90" y="260.0" width="2.55" height="1.8" fill="#175fb8"/>
<line x1="161.85" y1="242.1" x2="161.85" y2="261.8" stroke="#175fb8" stroke-width="1"/>
<rect x="160.58" y="250.6" width="2.55" height="10.3" fill="#175fb8"/>
<line x1="165.52" y1="240.4" x2="165.52" y2="252.4" stroke="#175fb8" stroke-width="1"/>
<rect x="164.25" y="242.1" width="2.55" height="9.4" fill="#175fb8"/>
<line x1="169.19" y1="237.8" x2="169.19" y2="258.3" stroke="#cc1c24" stroke-width="1"/>
<rect x="167.92" y="242.1" width="2.55" height="15.4" fill="#cc1c24"/>
<line x1="172.86" y1="248.1" x2="172.86" y2="263.5" stroke="#cc1c24" stroke-width="1"/>
<rect x="171.59" y="256.6" width="2.55" height="2.6" fill="#cc1c24"/>
<line x1="176.53" y1="253.2" x2="176.53" y2="277.1" stroke="#cc1c24" stroke-width="1"/>
<rect x="175.26" y="255.8" width="2.55" height="11.1" fill="#cc1c24"/>
<line x1="180.21" y1="265.2" x2="180.21" y2="281.4" stroke="#175fb8" stroke-width="1"/>
<rect x="178.94" y="266.9" width="2.55" height="13.7" fill="#175fb8"/>
<line x1="183.88" y1="264.3" x2="183.88" y2="281.4" stroke="#cc1c24" stroke-width="1"/>
<rect x="182.61" y="265.2" width="2.55" height="15.4" fill="#cc1c24"/>
<line x1="187.55" y1="257.5" x2="187.55" y2="285.7" stroke="#175fb8" stroke-width="1"/>
<rect x="186.28" y="258.3" width="2.55" height="22.3" fill="#175fb8"/>
<line x1="191.22" y1="248.9" x2="191.22" y2="260.0" stroke="#175fb8" stroke-width="1"/>
<rect x="189.95" y="253.2" width="2.55" height="6.0" fill="#175fb8"/>
<line x1="194.89" y1="252.4" x2="194.89" y2="261.8" stroke="#cc1c24" stroke-width="1"/>
<rect x="193.62" y="253.2" width="2.55" height="7.3" fill="#cc1c24"/>
<line x1="198.57" y1="259.2" x2="198.57" y2="269.0" stroke="#cc1c24" stroke-width="1"/>
<rect x="197.30" y="260.0" width="2.55" height="3.0" fill="#cc1c24"/>
<line x1="202.24" y1="252.4" x2="202.24" y2="263.5" stroke="#175fb8" stroke-width="1"/>
<rect x="200.97" y="254.0" width="2.55" height="7.5" fill="#175fb8"/>
<line x1="205.91" y1="252.4" x2="205.91" y2="260.9" stroke="#cc1c24" stroke-width="1"/>
<rect x="204.64" y="254.1" width="2.55" height="1.7" fill="#cc1c24"/>
<line x1="209.58" y1="249.0" x2="209.58" y2="263.5" stroke="#175fb8" stroke-width="1"/>
<rect x="208.31" y="249.8" width="2.55" height="6.0" fill="#175fb8"/>
<line x1="213.25" y1="246.4" x2="213.25" y2="258.4" stroke="#cc1c24" stroke-width="1"/>
<rect x="211.98" y="247.3" width="2.55" height="10.2" fill="#cc1c24"/>
<line x1="216.93" y1="237.9" x2="216.93" y2="258.4" stroke="#175fb8" stroke-width="1"/>
<rect x="215.66" y="239.6" width="2.55" height="17.9" fill="#175fb8"/>
<line x1="220.60" y1="231.9" x2="220.60" y2="242.1" stroke="#175fb8" stroke-width="1"/>
<rect x="219.33" y="235.3" width="2.55" height="5.1" fill="#175fb8"/>
<line x1="224.27" y1="217.4" x2="224.27" y2="240.4" stroke="#175fb8" stroke-width="1"/>
<rect x="223.00" y="219.9" width="2.55" height="19.7" fill="#175fb8"/>
<line x1="227.94" y1="215.6" x2="227.94" y2="226.8" stroke="#175fb8" stroke-width="1"/>
<rect x="226.67" y="217.4" width="2.55" height="4.2" fill="#175fb8"/>
<line x1="231.61" y1="208.8" x2="231.61" y2="238.7" stroke="#cc1c24" stroke-width="1"/>
<rect x="230.34" y="213.1" width="2.55" height="18.8" fill="#cc1c24"/>
<line x1="235.29" y1="223.3" x2="235.29" y2="237.9" stroke="#175fb8" stroke-width="1"/>
<rect x="234.02" y="226.8" width="2.55" height="5.9" fill="#175fb8"/>
<line x1="238.96" y1="211.4" x2="238.96" y2="228.5" stroke="#175fb8" stroke-width="1"/>
<rect x="237.69" y="217.4" width="2.55" height="10.2" fill="#175fb8"/>
<line x1="242.63" y1="216.5" x2="242.63" y2="230.2" stroke="#cc1c24" stroke-width="1"/>
<rect x="241.36" y="218.2" width="2.55" height="6.0" fill="#cc1c24"/>
<line x1="246.30" y1="218.2" x2="246.30" y2="231.0" stroke="#175fb8" stroke-width="1"/>
<rect x="245.03" y="223.3" width="2.55" height="2.6" fill="#175fb8"/>
<line x1="249.97" y1="208.8" x2="249.97" y2="224.2" stroke="#175fb8" stroke-width="1"/>
<rect x="248.70" y="214.8" width="2.55" height="8.5" fill="#175fb8"/>
<line x1="253.65" y1="201.1" x2="253.65" y2="217.4" stroke="#175fb8" stroke-width="1"/>
<rect x="252.38" y="203.7" width="2.55" height="12.8" fill="#175fb8"/>
<line x1="257.32" y1="202.0" x2="257.32" y2="217.4" stroke="#175fb8" stroke-width="1"/>
<rect x="256.05" y="203.7" width="2.55" height="2.5" fill="#175fb8"/>
<line x1="260.99" y1="204.5" x2="260.99" y2="227.6" stroke="#cc1c24" stroke-width="1"/>
<rect x="259.72" y="205.4" width="2.55" height="18.8" fill="#cc1c24"/>
<line x1="264.66" y1="219.9" x2="264.66" y2="238.7" stroke="#cc1c24" stroke-width="1"/>
<rect x="263.39" y="223.0" width="2.55" height="14.0" fill="#cc1c24"/>
<line x1="268.33" y1="228.6" x2="268.33" y2="245.8" stroke="#cc1c24" stroke-width="1"/>
<rect x="267.06" y="235.0" width="2.55" height="4.8" fill="#cc1c24"/>
<line x1="272.01" y1="225.2" x2="272.01" y2="241.0" stroke="#175fb8" stroke-width="1"/>
<rect x="270.74" y="230.8" width="2.55" height="9.4" fill="#175fb8"/>
<line x1="275.68" y1="219.4" x2="275.68" y2="232.2" stroke="#175fb8" stroke-width="1"/>
<rect x="274.41" y="226.2" width="2.55" height="5.2" fill="#175fb8"/>
<line x1="279.35" y1="225.4" x2="279.35" y2="245.9" stroke="#cc1c24" stroke-width="1"/>
<rect x="278.08" y="226.2" width="2.55" height="18.8" fill="#cc1c24"/>
<line x1="283.02" y1="239.9" x2="283.02" y2="255.3" stroke="#175fb8" stroke-width="1"/>
<rect x="281.75" y="243.3" width="2.55" height="2.6" fill="#175fb8"/>
<line x1="286.69" y1="233.1" x2="286.69" y2="244.2" stroke="#175fb8" stroke-width="1"/>
<rect x="285.42" y="235.6" width="2.55" height="7.7" fill="#175fb8"/>
<line x1="290.37" y1="229.7" x2="290.37" y2="238.2" stroke="#175fb8" stroke-width="1"/>
<rect x="289.10" y="230.5" width="2.55" height="6.9" fill="#175fb8"/>
<line x1="294.04" y1="227.1" x2="294.04" y2="233.9" stroke="#cc1c24" stroke-width="1"/>
<rect x="292.77" y="229.7" width="2.55" height="2.5" fill="#cc1c24"/>
<line x1="297.71" y1="225.4" x2="297.71" y2="238.2" stroke="#175fb8" stroke-width="1"/>
<rect x="296.44" y="226.2" width="2.55" height="6.9" fill="#175fb8"/>
<line x1="301.38" y1="220.3" x2="301.38" y2="227.1" stroke="#175fb8" stroke-width="1"/>
<rect x="300.11" y="224.5" width="2.55" height="1.7" fill="#175fb8"/>
<line x1="305.05" y1="219.4" x2="305.05" y2="226.2" stroke="#175fb8" stroke-width="1"/>
<rect x="303.78" y="221.1" width="2.55" height="4.3" fill="#175fb8"/>
<line x1="308.73" y1="220.3" x2="308.73" y2="239.4" stroke="#cc1c24" stroke-width="1"/>
<rect x="307.46" y="221.1" width="2.55" height="18.0" fill="#cc1c24"/>
<line x1="312.40" y1="231.4" x2="312.40" y2="241.6" stroke="#175fb8" stroke-width="1"/>
<rect x="311.13" y="233.9" width="2.55" height="5.2" fill="#175fb8"/>
<line x1="316.07" y1="233.1" x2="316.07" y2="249.3" stroke="#cc1c24" stroke-width="1"/>
<rect x="314.80" y="233.9" width="2.55" height="6.9" fill="#cc1c24"/>
<line x1="319.74" y1="234.8" x2="319.74" y2="249.3" stroke="#cc1c24" stroke-width="1"/>
<rect x="318.47" y="239.9" width="2.55" height="8.6" fill="#cc1c24"/>
<line x1="323.41" y1="248.5" x2="323.41" y2="281.8" stroke="#cc1c24" stroke-width="1"/>
<rect x="322.14" y="249.3" width="2.55" height="23.1" fill="#cc1c24"/>
<line x1="327.09" y1="261.3" x2="327.09" y2="275.8" stroke="#175fb8" stroke-width="1"/>
<rect x="325.82" y="265.6" width="2.55" height="5.9" fill="#175fb8"/>
<line x1="330.76" y1="265.6" x2="330.76" y2="280.1" stroke="#cc1c24" stroke-width="1"/>
<rect x="329.49" y="266.4" width="2.55" height="6.8" fill="#cc1c24"/>
<line x1="334.43" y1="266.4" x2="334.43" y2="283.5" stroke="#175fb8" stroke-width="1"/>
<rect x="333.16" y="267.3" width="2.55" height="6.8" fill="#175fb8"/>
<line x1="338.10" y1="252.4" x2="338.10" y2="268.1" stroke="#175fb8" stroke-width="1"/>
<rect x="336.83" y="253.4" width="2.55" height="13.9" fill="#175fb8"/>
<line x1="341.77" y1="240.0" x2="341.77" y2="256.2" stroke="#175fb8" stroke-width="1"/>
<rect x="340.50" y="240.8" width="2.55" height="14.5" fill="#175fb8"/>
<line x1="345.45" y1="241.3" x2="345.45" y2="250.2" stroke="#175fb8" stroke-width="1"/>
<rect x="344.18" y="241.7" width="2.55" height="1.7" fill="#175fb8"/>
<line x1="349.12" y1="241.3" x2="349.12" y2="249.4" stroke="#cc1c24" stroke-width="1"/>
<rect x="347.85" y="241.7" width="2.55" height="1.7" fill="#cc1c24"/>
<line x1="352.79" y1="231.4" x2="352.79" y2="243.4" stroke="#175fb8" stroke-width="1"/>
<rect x="351.52" y="232.3" width="2.55" height="10.2" fill="#175fb8"/>
<line x1="356.46" y1="228.8" x2="356.46" y2="240.8" stroke="#cc1c24" stroke-width="1"/>
<rect x="355.19" y="230.6" width="2.55" height="3.4" fill="#cc1c24"/>
<line x1="360.13" y1="231.4" x2="360.13" y2="242.5" stroke="#cc1c24" stroke-width="1"/>
<rect x="358.86" y="232.3" width="2.55" height="5.1" fill="#cc1c24"/>
<line x1="363.81" y1="222.9" x2="363.81" y2="236.5" stroke="#175fb8" stroke-width="1"/>
<rect x="362.54" y="227.1" width="2.55" height="8.6" fill="#175fb8"/>
<line x1="367.48" y1="225.4" x2="367.48" y2="231.4" stroke="#175fb8" stroke-width="1"/>
<rect x="366.21" y="227.1" width="2.55" height="3.5" fill="#175fb8"/>
<line x1="371.15" y1="216.0" x2="371.15" y2="228.0" stroke="#175fb8" stroke-width="1"/>
<rect x="369.88" y="218.6" width="2.55" height="8.5" fill="#175fb8"/>
<line x1="374.82" y1="211.8" x2="374.82" y2="228.0" stroke="#cc1c24" stroke-width="1"/>
<rect x="373.55" y="219.4" width="2.55" height="2.6" fill="#cc1c24"/>
<line x1="378.49" y1="216.9" x2="378.49" y2="231.4" stroke="#cc1c24" stroke-width="1"/>
<rect x="377.22" y="220.3" width="2.55" height="6.8" fill="#cc1c24"/>
<line x1="382.17" y1="210.9" x2="382.17" y2="225.4" stroke="#175fb8" stroke-width="1"/>
<rect x="380.90" y="215.2" width="2.55" height="9.4" fill="#175fb8"/>
<line x1="385.84" y1="209.2" x2="385.84" y2="216.9" stroke="#175fb8" stroke-width="1"/>
<rect x="384.57" y="212.6" width="2.55" height="2.6" fill="#175fb8"/>
<line x1="389.51" y1="202.4" x2="389.51" y2="213.5" stroke="#175fb8" stroke-width="1"/>
<rect x="388.24" y="204.1" width="2.55" height="8.9" fill="#175fb8"/>
<line x1="393.18" y1="198.1" x2="393.18" y2="210.0" stroke="#175fb8" stroke-width="1"/>
<rect x="391.91" y="200.6" width="2.55" height="3.8" fill="#175fb8"/>
<line x1="396.85" y1="200.6" x2="396.85" y2="210.0" stroke="#cc1c24" stroke-width="1"/>
<rect x="395.58" y="201.5" width="2.55" height="6.3" fill="#cc1c24"/>
<line x1="400.53" y1="199.5" x2="400.53" y2="208.0" stroke="#175fb8" stroke-width="1"/>
<rect x="399.26" y="202.2" width="2.55" height="5.1" fill="#175fb8"/>
<line x1="404.20" y1="188.7" x2="404.20" y2="209.2" stroke="#175fb8" stroke-width="1"/>
<rect x="402.93" y="191.2" width="2.55" height="15.4" fill="#175fb8"/>
<line x1="407.87" y1="188.3" x2="407.87" y2="196.3" stroke="#cc1c24" stroke-width="1"/>
<rect x="406.60" y="191.3" width="2.55" height="3.7" fill="#cc1c24"/>
<line x1="411.54" y1="193.4" x2="411.54" y2="210.5" stroke="#cc1c24" stroke-width="1"/>
<rect x="410.27" y="195.0" width="2.55" height="13.0" fill="#cc1c24"/>
<line x1="415.21" y1="201.0" x2="415.21" y2="222.8" stroke="#175fb8" stroke-width="1"/>
<rect x="413.94" y="203.0" width="2.55" height="5.6" fill="#175fb8"/>
<line x1="418.89" y1="193.9" x2="418.89" y2="207.6" stroke="#175fb8" stroke-width="1"/>
<rect x="417.62" y="198.2" width="2.55" height="8.6" fill="#175fb8"/>
<line x1="422.56" y1="198.2" x2="422.56" y2="218.7" stroke="#cc1c24" stroke-width="1"/>
<rect x="421.29" y="199.1" width="2.55" height="17.9" fill="#cc1c24"/>
<line x1="426.23" y1="215.3" x2="426.23" y2="229.8" stroke="#cc1c24" stroke-width="1"/>
<rect x="424.96" y="216.2" width="2.55" height="11.1" fill="#cc1c24"/>
<line x1="429.90" y1="216.2" x2="429.90" y2="227.3" stroke="#175fb8" stroke-width="1"/>
<rect x="428.63" y="217.0" width="2.55" height="8.6" fill="#175fb8"/>
<line x1="433.57" y1="216.2" x2="433.57" y2="231.5" stroke="#cc1c24" stroke-width="1"/>
<rect x="432.30" y="219.6" width="2.55" height="4.2" fill="#cc1c24"/>
<line x1="437.25" y1="216.2" x2="437.25" y2="225.6" stroke="#175fb8" stroke-width="1"/>
<rect x="435.98" y="218.7" width="2.55" height="5.1" fill="#175fb8"/>
<line x1="440.92" y1="211.0" x2="440.92" y2="231.5" stroke="#175fb8" stroke-width="1"/>
<rect x="439.65" y="213.6" width="2.55" height="6.8" fill="#175fb8"/>
<line x1="444.59" y1="207.6" x2="444.59" y2="218.7" stroke="#175fb8" stroke-width="1"/>
<rect x="443.32" y="208.5" width="2.55" height="9.4" fill="#175fb8"/>
<line x1="448.26" y1="208.5" x2="448.26" y2="219.6" stroke="#cc1c24" stroke-width="1"/>
<rect x="446.99" y="209.3" width="2.55" height="6.9" fill="#cc1c24"/>
<line x1="451.93" y1="213.6" x2="451.93" y2="223.8" stroke="#cc1c24" stroke-width="1"/>
<rect x="450.66" y="215.3" width="2.55" height="6.8" fill="#cc1c24"/>
<line x1="455.61" y1="217.0" x2="455.61" y2="228.1" stroke="#175fb8" stroke-width="1"/>
<rect x="454.34" y="218.7" width="2.55" height="3.4" fill="#175fb8"/>
<line x1="459.28" y1="211.0" x2="459.28" y2="219.6" stroke="#175fb8" stroke-width="1"/>
<rect x="458.01" y="215.3" width="2.55" height="3.4" fill="#175fb8"/>
<line x1="462.95" y1="215.3" x2="462.95" y2="225.6" stroke="#cc1c24" stroke-width="1"/>
<rect x="461.68" y="216.2" width="2.55" height="1.7" fill="#cc1c24"/>
<line x1="466.62" y1="216.2" x2="466.62" y2="234.6" stroke="#cc1c24" stroke-width="1"/>
<rect x="465.35" y="217.0" width="2.55" height="15.4" fill="#cc1c24"/>
<line x1="470.29" y1="224.7" x2="470.29" y2="234.6" stroke="#175fb8" stroke-width="1"/>
<rect x="469.02" y="227.3" width="2.55" height="5.1" fill="#175fb8"/>
<line x1="473.97" y1="223.0" x2="473.97" y2="233.2" stroke="#175fb8" stroke-width="1"/>
<rect x="472.70" y="223.8" width="2.55" height="8.6" fill="#175fb8"/>
<line x1="477.64" y1="211.0" x2="477.64" y2="226.0" stroke="#175fb8" stroke-width="1"/>
<rect x="476.37" y="212.7" width="2.55" height="11.1" fill="#175fb8"/>
<line x1="481.31" y1="207.6" x2="481.31" y2="213.6" stroke="#175fb8" stroke-width="1"/>
<rect x="480.04" y="208.5" width="2.55" height="4.2" fill="#175fb8"/>
<line x1="484.98" y1="207.6" x2="484.98" y2="212.7" stroke="#cc1c24" stroke-width="1"/>
<rect x="483.71" y="208.5" width="2.55" height="1.7" fill="#cc1c24"/>
<line x1="488.65" y1="205.9" x2="488.65" y2="212.7" stroke="#cc1c24" stroke-width="1"/>
<rect x="487.38" y="208.5" width="2.55" height="2.5" fill="#cc1c24"/>
<line x1="492.33" y1="208.5" x2="492.33" y2="217.0" stroke="#cc1c24" stroke-width="1"/>
<rect x="491.06" y="209.3" width="2.55" height="3.4" fill="#cc1c24"/>
<line x1="496.00" y1="211.0" x2="496.00" y2="221.8" stroke="#cc1c24" stroke-width="1"/>
<rect x="494.73" y="211.9" width="2.55" height="9.1" fill="#cc1c24"/>
<line x1="499.67" y1="217.9" x2="499.67" y2="227.3" stroke="#175fb8" stroke-width="1"/>
<rect x="498.40" y="219.6" width="2.55" height="3.4" fill="#175fb8"/>
<line x1="503.34" y1="215.3" x2="503.34" y2="220.4" stroke="#175fb8" stroke-width="1"/>
<rect x="502.07" y="216.2" width="2.55" height="3.4" fill="#175fb8"/>
<line x1="507.01" y1="207.6" x2="507.01" y2="217.9" stroke="#175fb8" stroke-width="1"/>
<rect x="505.74" y="210.2" width="2.55" height="6.8" fill="#175fb8"/>
<line x1="510.69" y1="207.6" x2="510.69" y2="212.7" stroke="#175fb8" stroke-width="1"/>
<rect x="509.42" y="208.5" width="2.55" height="3.4" fill="#175fb8"/>
<line x1="514.36" y1="209.3" x2="514.36" y2="213.6" stroke="#cc1c24" stroke-width="1"/>
<rect x="513.09" y="210.2" width="2.55" height="2.5" fill="#cc1c24"/>
<line x1="518.03" y1="211.5" x2="518.03" y2="213.5" stroke="#175fb8" stroke-width="1"/>
<rect x="516.76" y="211.9" width="2.55" height="1.2" fill="#175fb8"/>
<line x1="521.70" y1="209.3" x2="521.70" y2="213.6" stroke="#175fb8" stroke-width="1"/>
<rect x="520.43" y="210.2" width="2.55" height="2.5" fill="#175fb8"/>
<line x1="525.37" y1="208.0" x2="525.37" y2="211.9" stroke="#175fb8" stroke-width="1"/>
<rect x="524.10" y="209.0" width="2.55" height="2.0" fill="#175fb8"/>
<line x1="529.05" y1="206.8" x2="529.05" y2="211.0" stroke="#cc1c24" stroke-width="1"/>
<rect x="527.78" y="208.5" width="2.55" height="1.7" fill="#cc1c24"/>
<line x1="532.72" y1="209.3" x2="532.72" y2="215.3" stroke="#cc1c24" stroke-width="1"/>
<rect x="531.45" y="210.2" width="2.55" height="4.4" fill="#cc1c24"/>
<line x1="536.39" y1="214.1" x2="536.39" y2="225.6" stroke="#cc1c24" stroke-width="1"/>
<rect x="535.12" y="214.6" width="2.55" height="10.1" fill="#cc1c24"/>
<line x1="540.06" y1="223.4" x2="540.06" y2="225.6" stroke="#175fb8" stroke-width="1"/>
<rect x="538.79" y="223.8" width="2.55" height="1.4" fill="#175fb8"/>
<line x1="543.73" y1="220.4" x2="543.73" y2="234.6" stroke="#175fb8" stroke-width="1"/>
<rect x="542.46" y="221.3" width="2.55" height="3.4" fill="#175fb8"/>
<line x1="547.41" y1="214.0" x2="547.41" y2="222.1" stroke="#175fb8" stroke-width="1"/>
<rect x="546.14" y="217.0" width="2.55" height="4.3" fill="#175fb8"/>
<line x1="551.08" y1="211.0" x2="551.08" y2="220.0" stroke="#175fb8" stroke-width="1"/>
<rect x="549.81" y="211.9" width="2.55" height="7.3" fill="#175fb8"/>
<line x1="554.75" y1="209.3" x2="554.75" y2="223.8" stroke="#cc1c24" stroke-width="1"/>
<rect x="553.48" y="210.2" width="2.55" height="12.8" fill="#cc1c24"/>
<line x1="558.42" y1="221.3" x2="558.42" y2="234.6" stroke="#cc1c24" stroke-width="1"/>
<rect x="557.15" y="222.1" width="2.55" height="6.0" fill="#cc1c24"/>
<line x1="562.09" y1="224.0" x2="562.09" y2="227.2" stroke="#175fb8" stroke-width="1"/>
<rect x="560.82" y="224.7" width="2.55" height="1.7" fill="#175fb8"/>
<line x1="565.77" y1="216.2" x2="565.77" y2="227.3" stroke="#175fb8" stroke-width="1"/>
<rect x="564.50" y="217.0" width="2.55" height="9.4" fill="#175fb8"/>
<line x1="569.44" y1="211.0" x2="569.44" y2="223.0" stroke="#175fb8" stroke-width="1"/>
<rect x="568.17" y="212.7" width="2.55" height="9.4" fill="#175fb8"/>
<line x1="573.11" y1="209.3" x2="573.11" y2="218.7" stroke="#cc1c24" stroke-width="1"/>
<rect x="571.84" y="211.0" width="2.55" height="4.8" fill="#cc1c24"/>
<line x1="576.78" y1="214.1" x2="576.78" y2="214.9" stroke="#888" stroke-width="1"/>
<rect x="575.51" y="214.1" width="2.55" height="1.0" fill="#888"/>
</g>
<g stroke="#000" stroke-width="2.3" stroke-linecap="round" filter="url(#soft)">
<line x1="427.5" y1="204.9" x2="580.5" y2="204.9"/>
<line x1="421.5" y1="235.8" x2="580.5" y2="235.8"/>
</g>
<text x="502.2" y="192.3" font-size="13" letter-spacing="1.6" fill="#111" stroke="#111" stroke-width="0.25" text-anchor="middle" filter="url(#soft)">阻力位</text>
<text x="502.2" y="257" font-size="13" letter-spacing="1.6" fill="#111" stroke="#111" stroke-width="0.25" text-anchor="middle" filter="url(#soft)">支持位</text>
<g font-size="8.8" letter-spacing="0.45" fill="#3a3a3a" stroke="#3a3a3a" stroke-width="0.15" filter="url(#soft)">
<text x="70.5" y="40.3" text-anchor="middle">Apr</text>
<text x="148.0" y="40.3" text-anchor="middle">May</text>
<text x="224.5" y="40.3" text-anchor="middle">Jun</text>
<text x="305.7" y="40.3" text-anchor="middle">Jul</text>
<text x="389.8" y="40.3" text-anchor="middle">Aug</text>
<text x="466.4" y="40.3" text-anchor="middle">Sep</text>
<text x="555.0" y="40.3" text-anchor="middle">Oct</text>
</g>
<g font-size="8.7" letter-spacing="0.55" fill="#505050" filter="url(#soft)">
<text x="-2.4" y="459.8" textLength="51" lengthAdjust="spacing">03/05/2009</text>
<text x="129.2" y="459.8" text-anchor="middle">04/24</text>
<text x="187.9" y="459.8" text-anchor="middle">05/18</text>
<text x="246.6" y="459.8" text-anchor="middle">06/09</text>
<text x="305.3" y="459.8" text-anchor="middle">07/01</text>
<text x="364.0" y="459.8" text-anchor="middle">07/23</text>
<text x="422.7" y="459.8" text-anchor="middle">08/14</text>
<text x="481.4" y="459.8" text-anchor="middle">09/07</text>
<text x="540.1" y="459.8" text-anchor="middle">09/27</text>
</g>
<g font-size="8.7" letter-spacing="0.45" fill="#4c4c4c" filter="url(#soft)">
<text x="596" y="422.2">55.00</text>
<text x="596" y="379.7">60.00</text>
<text x="596" y="337.2">65.00</text>
<text x="596" y="294.7">70.00</text>
<text x="596" y="252.2">75.00</text>
<text x="596" y="209.7">80.00</text>
<text x="596" y="167.2">85.00</text>
<text x="596" y="124.7">90.00</text>
<text x="596" y="82.2">95.00</text>
</g>
<rect x="593.8" y="209.8" width="27" height="9.8" fill="#d2e4f7" filter="url(#soft)"/>
<text x="596" y="218.5" font-size="8.7" letter-spacing="0.45" fill="#26435f" stroke="#26435f" stroke-width="0.12" filter="url(#soft)">78.96</text>
<rect x="594.3" y="420.6" width="26.2" height="9.8" fill="#f1e272" filter="url(#soft)"/>
<text x="596" y="429" font-size="8.7" letter-spacing="0.45" fill="#4a4214" stroke="#4a4214" stroke-width="0.1" filter="url(#soft)">54.37</text>
<g id="toolbar" filter="url(#soft2)">
<rect x="2" y="2" width="623.8" height="27.9" fill="url(#tbg)"/>
<rect x="2.3" y="2" width="57.5" height="3" fill="#5a5c64" opacity="0.8"/>
<rect x="3.8" y="5.2" width="54.5" height="13.4" fill="#1c1d26" stroke="#0a0a0f" stroke-width="0.9"/>
<rect x="47.3" y="6" width="10" height="12" fill="#15161d"/>
<path d="M50.3 10.6 L52.4 13 L54.5 10.6" fill="none" stroke="#b8b8c2" stroke-width="1"/>
<text x="6.4" y="14.9" font-size="8.3" fill="#c2c3cd" textLength="31.5" lengthAdjust="spacingAndGlyphs">AUD/JPY</text>
<rect x="91.5" y="2" width="69.5" height="3" fill="#5a5c64" opacity="0.8"/>
<rect x="93.0" y="5.2" width="66.5" height="13.4" fill="#1c1d26" stroke="#0a0a0f" stroke-width="0.9"/>
<rect x="148.5" y="6" width="10" height="12" fill="#15161d"/>
<path d="M151.5 10.6 L153.6 13 L155.7 10.6" fill="none" stroke="#b8b8c2" stroke-width="1"/>
<text x="95.6" y="14.9" font-size="8.3" fill="#c2c3cd" textLength="16.4" lengthAdjust="spacingAndGlyphs">Daily</text>
<path d="M86.0 9.8 L90.0 9.8 L88.0 12.4 Z" fill="#05060a"/>
<path d="M189.7 9.8 L193.7 9.8 L191.7 12.4 Z" fill="#05060a"/>
<path d="M350.0 9.8 L354.0 9.8 L352.0 12.4 Z" fill="#05060a"/>
<path d="M552.6 9.8 L556.6 9.8 L554.6 12.4 Z" fill="#05060a"/>
<path d="M587.0 9.8 L591.0 9.8 L589.0 12.4 Z" fill="#05060a"/>
<circle cx="70.3" cy="10.2" r="1.9" fill="none" stroke="#e8e8ee" stroke-width="1.1"/>
<circle cx="75" cy="10.2" r="1.9" fill="none" stroke="#e8e8ee" stroke-width="1.1"/>
<ellipse cx="74.2" cy="13.6" rx="2.9" ry="2" fill="#e0141c"/>
<rect x="169.8" y="8.2" width="10.6" height="8" fill="#ece6e6"/>
<path d="M170.5 13 L173 10 L175.5 14 L178 10 L180 12.5" fill="none" stroke="#d03050" stroke-width="1.2"/>
<path d="M175.8 12 L178 14.5 L180.2 11" fill="none" stroke="#2f9a55" stroke-width="1.2"/>
<rect x="204.5" y="2.5" width="20" height="18.5" fill="#2a3052" opacity="0.6"/>
<rect x="209" y="8.2" width="10.3" height="7.8" fill="#eef0f4"/>
<path d="M211.5 10 h2 v4.5 h-2 M215 9.5 v5.5 M216.8 10 v4.5" stroke="#30343c" stroke-width="1" fill="none"/>
<rect x="232" y="8.2" width="10.3" height="7.8" fill="#e6e8ee"/>
<path d="M234.5 10 h2.2 v4.5 h-2.2 z M238.8 9.5 v5.5 M240.5 11 v3" stroke="#30343c" stroke-width="1" fill="none"/>
<rect x="257.5" y="11" width="7.5" height="5.5" fill="#24396a"/>
<path d="M266.1 9.5 L271.5 15.2" stroke="#05060a" stroke-width="2.6" stroke-linecap="round"/>
<circle cx="263.0" cy="7.6" r="3.7" fill="#b4b8c6"/>
<circle cx="262.7" cy="6.8" r="2" fill="#dfe1e8"/>
<path d="M260.0 13.4 h3.4" stroke="#fff" stroke-width="1.1"/>
<rect x="280.5" y="11" width="7.5" height="5.5" fill="#24396a"/>
<path d="M289.1 9.5 L294.5 15.2" stroke="#05060a" stroke-width="2.6" stroke-linecap="round"/>
<circle cx="286.0" cy="7.6" r="3.7" fill="#b4b8c6"/>
<circle cx="285.7" cy="6.8" r="2" fill="#dfe1e8"/>
<path d="M283.0 13.4 h3.4" stroke="#fff" stroke-width="1.1"/>
<path d="M261.7 11.8 v3.2" stroke="#fff" stroke-width="1.1"/>
<rect x="304.5" y="9.5" width="8" height="7" fill="#24396a" opacity="0.8"/>
<path d="M309.6 5.2 L309.6 14 L311.6 12 L313.2 15 L314.4 14.4 L313 11.6 L315.6 11.4 Z" fill="#f4f5f8"/>
<path d="M330.7 6.5 V16" stroke="#05060a" stroke-width="1.2"/>
<rect x="333.2" y="8.7" width="4.8" height="4.8" fill="#f0f0f2"/>
<path d="M339 9 V15 H333" stroke="#3a3c46" stroke-width="1" fill="none"/>
<rect x="367.8" y="7.5" width="5.6" height="8.6" fill="#175617"/>
<path d="M369.5 9 v1.4 M371.8 10.5 v1.5 M369.5 13 v1.6" stroke="#7fd07f" stroke-width="1.2"/>
<rect x="387.2" y="7" width="12.6" height="8.8" fill="#e88a1c"/>
<rect x="387.2" y="7" width="7" height="8.8" fill="#f4f6fa"/>
<rect x="393" y="9" width="6.8" height="3.2" fill="#f7c27a"/>
<rect x="386" y="5.5" width="14" height="2" fill="#4a5578" opacity="0.7"/>
<path d="M410.2 12 Q416 6 421.8 12 Q416 17.6 410.2 12 Z" fill="#eef1f6"/>
<circle cx="416" cy="11.8" r="2.5" fill="#2f4f98"/>
<path d="M417 8.5 L421 6.2" stroke="#05060a" stroke-width="1.4"/>
<circle cx="439.5" cy="10.6" r="5" fill="#5b94cf"/>
<path d="M437 7.5 q2 -1.5 3.5 0.5 q0.5 2.5 -1.5 3.5 q-2.5 0 -2 -4z" fill="#9ccaec"/>
<rect x="434" y="16.2" width="11" height="2.2" fill="#2c4a7c" opacity="0.5"/>
<rect x="465" y="9.5" width="8" height="6" fill="#1f7a1f"/>
<path d="M462.5 9 h4 M464 8 v5 h-1.5 M466 10 l3 -1.5 h3.5 l0.5 2" stroke="#f2f5f2" stroke-width="1.7" fill="none"/>
<rect x="486.3" y="4.6" width="9.8" height="10.8" fill="#eeeeee"/>
<rect x="490.3" y="5.6" width="1.9" height="8.6" fill="#111"/>
<rect x="487" y="16.4" width="8.6" height="1.2" fill="#555a66" opacity="0.8"/>
<rect x="509" y="6" width="10" height="10" fill="#cfe2ec"/>
<path d="M511.5 13.8 v-4 M514 13.8 v-6 M516.5 13.8 v-3" stroke="#2f8a4f" stroke-width="1.5"/>
<path d="M510 14.5 h8" stroke="#6a7f8c" stroke-width="0.8"/>
<path d="M532.4 14.8 L543 4.8" stroke="#a82428" stroke-width="2.6" stroke-linecap="round"/>
<path d="M532.2 14.4 L542.6 4.6" stroke="#e0a030" stroke-width="1.3" stroke-linecap="round"/>
<path d="M572 4.2 L574.4 9.3 L569.6 9.3 Z" fill="#1f9a5a"/>
<circle cx="572.4" cy="13.2" r="2.5" fill="#e0141c"/>
<circle cx="572.2" cy="9.6" r="1.3" fill="#f4f4f4"/>
<rect x="611" y="2.5" width="14.6" height="19" fill="#3a3d4a" opacity="0.55"/>
<path d="M617.2 8.5 h4 v5 M619 11 l2.4 2.6" stroke="#7d8090" stroke-width="1" fill="none"/>
<path d="M203.5 4 V21 M225.5 4 V21" stroke="#15161c" stroke-width="1" opacity="0.55"/>
</g>
</svg>
</body></html>
